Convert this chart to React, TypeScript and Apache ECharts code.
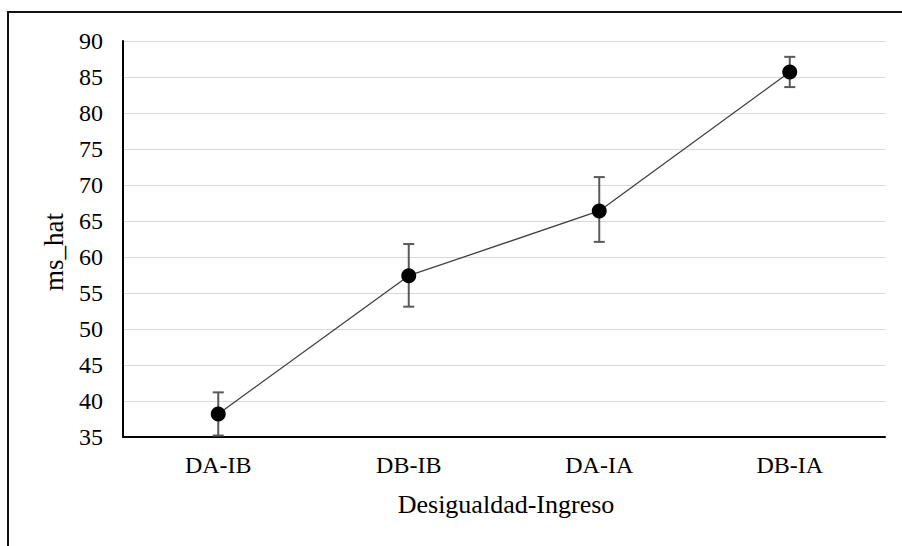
import React, { useEffect, useRef } from "react";
import * as echarts from "echarts";

const categories = ["DA-IB", "DB-IB", "DA-IA", "DB-IA"];
const means = [38.2, 57.4, 66.4, 85.7];
const lower = [35.2, 53.1, 62.1, 83.6];
const upper = [41.2, 61.8, 71.1, 87.8];
const yTitle = "ms_hat";
const xTitle = "Desigualdad-Ingreso";

const FONT = "Liberation Serif";

export default function App() {
  const ref = useRef<HTMLDivElement>(null);
  useEffect(() => {
    if (!ref.current) return;
    const chart = echarts.init(ref.current, undefined, { renderer: "svg" });
    chart.setOption({
      animation: false,
      backgroundColor: "transparent",
      textStyle: { fontFamily: FONT },
      grid: { left: 123, top: 41, right: 17, bottom: 109, containLabel: false },
      xAxis: {
        type: "category",
        data: categories,
        boundaryGap: true,
        axisLine: { show: true, lineStyle: { color: "#000", width: 2 } },
        axisTick: { show: false },
        axisLabel: { color: "#000", fontFamily: FONT, fontSize: 24, margin: 16 },
        splitLine: { show: false },
      },
      yAxis: {
        type: "value",
        min: 35,
        max: 90,
        interval: 5,
        axisLine: { show: true, lineStyle: { color: "#000", width: 2 } },
        axisTick: { show: false },
        axisLabel: { color: "#000", fontFamily: FONT, fontSize: 24, margin: 20 },
        splitLine: { show: true, lineStyle: { color: "#d9d9d9", width: 1 } },
      },
      graphic: [
        {
          type: "text",
          x: 54,
          y: 252,
          rotation: Math.PI / 2,
          style: {
            text: yTitle,
            fontFamily: FONT,
            fontSize: 27,
            fill: "#000",
            textAlign: "center",
            textVerticalAlign: "middle",
          },
        },
        {
          type: "text",
          x: 506,
          y: 504,
          style: {
            text: xTitle,
            fontFamily: FONT,
            fontSize: 26,
            fill: "#000",
            textAlign: "center",
            textVerticalAlign: "middle",
          },
        },
      ],
      series: [
        {
          type: "custom",
          z: 1,
          data: categories.map((_, i) => [i, lower[i], upper[i]]),
          renderItem: (params: any, api: any) => {
            const x = api.value(0);
            const lo = api.coord([x, api.value(1)]);
            const hi = api.coord([x, api.value(2)]);
            const hw = 5.5;
            const st = { stroke: "#595959", lineWidth: 2 };
            return {
              type: "group",
              children: [
                { type: "line", shape: { x1: lo[0], y1: lo[1], x2: hi[0], y2: hi[1] }, style: st },
                { type: "line", shape: { x1: lo[0] - hw, y1: lo[1], x2: lo[0] + hw, y2: lo[1] }, style: st },
                { type: "line", shape: { x1: hi[0] - hw, y1: hi[1], x2: hi[0] + hw, y2: hi[1] }, style: st },
              ],
            };
          },
        },
        {
          type: "line",
          z: 3,
          data: means,
          symbol: "circle",
          symbolSize: 15,
          lineStyle: { color: "#404040", width: 1.3 },
          itemStyle: { color: "#000" },
        },
      ],
    });
    return () => chart.dispose();
  }, []);

  return (
    <div style={{ position: "fixed", left: 0, top: 0, width: 902, height: 546, background: "#fff" }}>
      <div
        style={{
          position: "absolute",
          left: 7,
          top: 11,
          width: 902,
          height: 546,
          borderTop: "2px solid #111",
          borderLeft: "2px solid #111",
        }}
      />
      <div ref={ref} style={{ position: "absolute", left: 0, top: 0, width: 902, height: 546 }} />
    </div>
  );
}
